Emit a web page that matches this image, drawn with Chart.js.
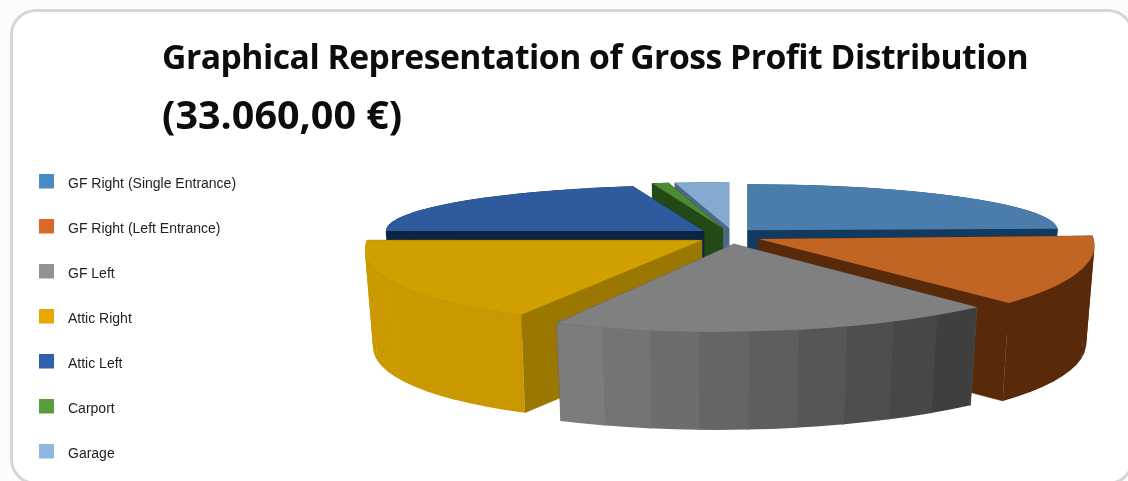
<!DOCTYPE html>
<html>
<head>
<meta charset="utf-8">
<style>
    html, body { margin: 0; height: 100%; background: #fcfcfc; overflow: hidden; }
    #card {
        position: absolute; left: 10px; top: 9px; width: 1124px; height: 476px;
        box-sizing: border-box; background: #fff;
        border: 3px solid #d6d6d6; border-radius: 26px;
    }
    h1 {
        position: absolute; left: 162px; margin: 0; color: #0c0c0c;
        font-family: "Open Sans", sans-serif; font-weight: bold; white-space: nowrap;
    }
    #title { top: 33px; font-size: 33.7px; letter-spacing: -0.5px; }
    #amount { top: 87px; font-size: 39.5px; }
    canvas { position: absolute; left: 0; top: 0; }
</style>
</head>
<body>
<div id="card"></div>
<canvas id="profit" width="1128" height="530"></canvas>
<h1 id="title">Graphical Representation of Gross Profit Distribution</h1>
<h1 id="amount">(33.060,00 €)</h1>
<script src="https://cdn.jsdelivr.net/npm/chart.js@4"></script>
<script>
// Gross profit per unit in euro, total 33.060,00
const units = ['GF Right (Single Entrance)', 'GF Right (Left Entrance)', 'GF Left', 'Attic Right', 'Attic Left', 'Carport', 'Garage'];
const grossProfit = [8080, 4410, 6430, 5880, 7070, 280, 910];

const legendColors = ['#4a8cc2', '#d9682a', '#929292', '#e6a700', '#2f5fae', '#5a9e3c', '#8fb6e0'];
const topColors = ['#4a7dab', '#c16524', '#808080', '#d09f00', '#2f5a9d', '#4c8a33', '#85aad0'];
const edgeColors = ['#123a5e', '#582a0a', '#5a5a5a', '#9a7700', '#0c2444', '#234a16', '#4d6a85'];
const wallFrom = ['#123a5e', '#582a0a', '#3f3f3f', '#c99800', '#0c2444', '#234a16', '#4d6a85'];
const wallTo = ['#123a5e', '#582a0a', '#7c7c7c', '#cc9a00', '#0c2444', '#234a16', '#4d6a85'];

// Fake perspective: slices nearer the viewer get a wider, taller and slightly sheared ellipse
const spanX = [310, 335, 368, 335, 318, 315, 315];
const spanY = [46, 89, 88, 83, 46, 46, 46];
const shear = [0, 0.27, -0.2, -0.45, 0, 0, 0];
const pull = [27, 32, 32, 32, 32, 32, 0];
const paintOrder = [6, 5, 4, 0, 3, 1, 2];

const pieX = 729, pieY = 236, explodeY = 8, depth = 98, taper = 0.975;

function mix(a, b, t) {
    const pa = parseInt(a.slice(1), 16), pb = parseInt(b.slice(1), 16);
    const ch = shift => {
        const ca = (pa >> shift) & 255, cb = (pb >> shift) & 255;
        return Math.round(ca + (cb - ca) * t);
    };
    return `rgb(${ch(16)},${ch(8)},${ch(0)})`;
}

function drawSlice(ctx, arc, i) {
    const { x, y, startAngle, endAngle, outerRadius } = arc.getProps(['x', 'y', 'startAngle', 'endAngle', 'outerRadius']);
    const mid = (startAngle + endAngle) / 2;
    const cx = pieX + Math.cos(mid) * pull[i];
    const cy = pieY + Math.sin(mid) * explodeY;
    const rx = spanX[i], ry = spanY[i];
    const baseX = -shear[i] * depth;

    ctx.save();
    ctx.transform(1, 0, shear[i], 1, cx, cy);

    // straight cut faces, pulled down by the slab depth
    ctx.fillStyle = edgeColors[i];
    ctx.strokeStyle = edgeColors[i];
    ctx.lineWidth = 0.4;
    [startAngle, endAngle].forEach(a => {
        const ex = Math.cos(a) * rx, ey = Math.sin(a) * ry;
        ctx.beginPath();
        ctx.moveTo(0, 0);
        ctx.lineTo(ex, ey);
        ctx.lineTo(baseX + ex * taper, ey + depth);
        ctx.lineTo(baseX, depth);
        ctx.closePath();
        ctx.fill();
        ctx.stroke();
    });

    // rim wall in narrow facets, the base ring slightly smaller than the top
    const facets = Math.max(1, Math.round((endAngle - startAngle) / 0.14));
    const step = (endAngle - startAngle) / facets;
    for (let k = 0; k < facets; k++) {
        const a0 = startAngle + step * k;
        const a1 = Math.min(a0 + step + 0.006, endAngle);
        ctx.fillStyle = mix(wallFrom[i], wallTo[i], facets > 1 ? k / (facets - 1) : 0);
        ctx.beginPath();
        ctx.ellipse(0, 0, rx, ry, 0, a0, a1);
        ctx.ellipse(baseX, depth, rx * taper, ry, 0, a1, a0, true);
        ctx.closePath();
        ctx.fill();
    }

    // top face is the library's own arc, squashed onto the ellipse
    ctx.scale(rx / outerRadius, ry / outerRadius);
    ctx.translate(-x, -y);
    arc.draw(ctx);
    ctx.restore();
}

const slabPie = {
    id: 'slabPie',
    beforeDatasetsDraw(chart) {
        const arcs = chart.getDatasetMeta(0).data;
        paintOrder.forEach(i => drawSlice(chart.ctx, arcs[i], i));
        return false;
    }
};

// legend marker with empty room on its right and below, so the label sits further off
function swatch(color) {
    const c = document.createElement('canvas');
    c.width = 22;
    c.height = 21;
    const g = c.getContext('2d');
    g.fillStyle = color;
    g.fillRect(0, 0, 15, 15);
    return c;
}

new Chart(document.getElementById('profit'), {
    type: 'pie',
    data: {
        labels: units,
        datasets: [{
            data: grossProfit,
            backgroundColor: topColors,
            borderWidth: 0
        }]
    },
    options: {
        responsive: false,
        animation: false,
        layout: { padding: { left: 8, top: 146 } },
        plugins: {
            tooltip: { enabled: false },
            legend: {
                position: 'left',
                align: 'start',
                labels: {
                    usePointStyle: true,
                    pointStyleWidth: 22,
                    boxHeight: 15,
                    padding: 31,
                    color: '#222',
                    font: { family: '"Liberation Sans", Arial, sans-serif', size: 14 },
                    generateLabels(chart) {
                        return Chart.overrides.pie.plugins.legend.labels.generateLabels(chart).map((item, i) => {
                            item.pointStyle = swatch(legendColors[i]);
                            item.lineWidth = 0;
                            return item;
                        });
                    }
                }
            }
        }
    },
    plugins: [slabPie]
});
</script>
</body>
</html>
